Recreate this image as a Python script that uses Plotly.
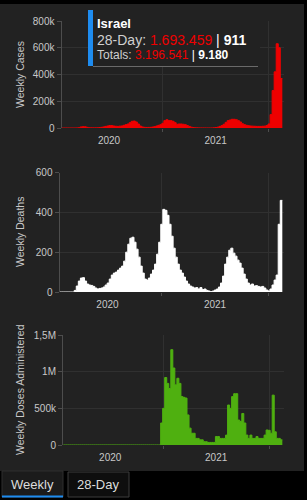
import pandas as pd
import plotly.graph_objects as go

# ---------------- data ----------------
week_start = "2020-01-22"
n_weeks = 108
weeks = pd.date_range(week_start, periods=n_weeks, freq="7D")

cases = [0, 0, 0, 0, 0, 0, 100, 500, 2000, 8000,
         10000, 9000, 5000, 2000, 1500, 1000, 1000, 1500, 3000, 5000,
         8000, 12000, 15000, 18000, 18000, 15000, 13000, 12000, 14000, 15000,
         20000, 25000, 30000, 40000, 50000, 52000, 45000, 30000, 15000, 8000,
         5000, 4000, 4500, 5000, 7000, 10000, 15000, 20000, 25000, 35000,
         55000, 62000, 55000, 55000, 50000, 40000, 28000, 30000, 30000, 28000,
         25000, 18000, 12000, 6000, 3000, 1500, 1000, 800, 600, 500,
         300, 200, 200, 500, 1500, 3000, 6000, 12000, 18000, 28000,
         42000, 55000, 60000, 65000, 65000, 62000, 55000, 45000, 32000, 25000,
         20000, 17000, 15000, 14000, 13000, 12000, 12000, 12000, 13000, 14000,
         18000, 30000, 100000, 280000, 420000, 630000, 600000, 370000]

deaths = [0, 0, 0, 0, 0, 0, 0, 8, 30, 55,
          70, 72, 55, 40, 35, 33, 28, 20, 15, 18,
          20, 25, 35, 45, 65, 85, 95, 100, 110, 120,
          130, 155, 200, 240, 270, 275, 250, 215, 175, 130,
          95, 65, 60, 70, 90, 110, 140, 190, 250, 340,
          415, 410, 385, 340, 280, 220, 175, 140, 110, 95,
          75, 55, 40, 30, 25, 20, 22, 15, 22, 12,
          15, 8, 5, 2, 5, 10, 15, 25, 45, 80,
          140, 175, 210, 220, 195, 180, 160, 145, 120, 90,
          65, 45, 35, 40, 30, 32, 28, 25, 28, 20,
          10, 5, 15, 35, 60, 85, 340, 460]

doses = [0] * 48 + [
    300000, 500000, 920000, 840000, 770000, 1300000, 1050000, 820000, 910000, 840000,
    660000, 650000, 640000, 410000, 230000, 160000, 160000, 90000, 90000, 70000,
    70000, 45000, 45000, 35000, 35000, 35000, 35000, 115000, 115000, 90000,
    90000, 90000, 135000, 545000, 500000, 660000, 700000, 700000, 340000, 320000,
    430000, 300000, 135000, 90000, 135000, 90000, 90000, 115000, 90000, 90000,
    90000, 135000, 205000, 200000, 160000, 680000, 180000, 90000, 90000, 70000]

cases_ticks = [0, 200000, 400000, 600000, 800000]
cases_ticktext = ["0", "200k", "400k", "600k", "800k"]
deaths_ticks = [0, 200, 400, 600]
deaths_ticktext = ["0", "200", "400", "600"]
doses_ticks = [0, 500000, 1000000, 1500000]
doses_ticktext = ["0", "500k", "1M", "1,5M"]

country = "Israel"
day28_cases, day28_deaths = "1.693.459", "911"
total_cases, total_deaths = "3.196.541", "9.180"

# ---------------- style ----------------
W, H = 307, 500
FONT = "Liberation Sans, Arial, sans-serif"
PANEL = "#222222"
GRID = "#303030"
AXIS = "#4d4d4d"
TXT = "#c8c8c8"
RED = "#ee0000"
WHITE = "#ffffff"
GREEN = "#4fb010"
BLUE = "#1e8cf0"


def xp(px):
    return px / W


def yp(px):
    return 1 - px / H


x_end = weeks[-1] + pd.Timedelta(days=7)
xs = list(weeks) + [x_end]
x_range = ["2020-01-21", "2022-02-20"]

fig = go.Figure()
for vals, color, xa, ya in [(cases, RED, "x", "y"), (deaths, WHITE, "x2", "y2"), (doses, GREEN, "x3", "y3")]:
    fig.add_trace(go.Scatter(
        x=xs, y=list(vals) + [vals[-1]], mode="lines", line=dict(shape="hv", color=color, width=1),
        fill="tozeroy", fillcolor=color, xaxis=xa, yaxis=ya, hoverinfo="skip", showlegend=False))


def xaxis_def(anchor, left_px):
    return dict(domain=[xp(left_px), xp(283.5)], anchor=anchor, type="date", range=x_range,
                dtick="M12", tick0="2020-01-01", ticklabelmode="period",
                showgrid=True, gridcolor=GRID, gridwidth=1, zeroline=False,
                showline=False, ticks="outside", ticklen=3, tickcolor=AXIS,
                tickfont=dict(size=10, color=TXT, family=FONT), automargin=False)


def yaxis_def(anchor, top_px, bottom_px, rng, tv, tt):
    return dict(domain=[yp(bottom_px), yp(top_px)], anchor=anchor, range=rng,
                tickvals=tv, ticktext=tt, showgrid=True, gridcolor=GRID, gridwidth=1,
                zeroline=False, showline=True, linecolor=AXIS, linewidth=1,
                ticks="outside", ticklen=4, tickcolor=AXIS,
                tickfont=dict(size=10, color=TXT, family=FONT), automargin=False)


fig.update_layout(
    width=W, height=H, margin=dict(l=0, r=0, t=0, b=0),
    paper_bgcolor="#000000", plot_bgcolor="rgba(0,0,0,0)",
    font=dict(family=FONT, color=TXT),
    xaxis=xaxis_def("y", 61.5),
    yaxis=yaxis_def("x", 21, 128, [0, 800000], cases_ticks, cases_ticktext),
    xaxis2=xaxis_def("y2", 59.5),
    yaxis2=yaxis_def("x2", 172.5, 292, [0, 600], deaths_ticks, deaths_ticktext),
    xaxis3=xaxis_def("y3", 63),
    yaxis3=yaxis_def("x3", 335, 445, [0, 1500000], doses_ticks, doses_ticktext),
)

shapes = [
    # main panel
    dict(type="rect", xref="paper", yref="paper", x0=xp(0), x1=xp(304), y0=yp(471), y1=yp(4),
         fillcolor=PANEL, line=dict(width=0), layer="below"),
    # tooltip background, blue bar and underline
    dict(type="rect", xref="paper", yref="paper", x0=xp(93), x1=xp(260), y0=yp(66), y1=yp(10),
         fillcolor=PANEL, line=dict(width=0), layer="above"),
    dict(type="rect", xref="paper", yref="paper", x0=xp(88), x1=xp(93), y0=yp(66), y1=yp(10),
         fillcolor=BLUE, line=dict(width=0), layer="above"),
    dict(type="line", xref="paper", yref="paper", x0=xp(93), x1=xp(258), y0=yp(66.5), y1=yp(66.5),
         line=dict(color="#6a6a6a", width=1), layer="above"),
    # tabs
    dict(type="rect", xref="paper", yref="paper", x0=xp(2), x1=xp(63), y0=yp(497), y1=yp(471),
         fillcolor="#1b1b1b", line=dict(color="#2e2e2e", width=1), layer="below"),
    dict(type="rect", xref="paper", yref="paper", x0=xp(2), x1=xp(63), y0=yp(497.5), y1=yp(495.5),
         fillcolor=BLUE, line=dict(width=0), layer="above"),
    dict(type="rect", xref="paper", yref="paper", x0=xp(68), x1=xp(129), y0=yp(497), y1=yp(472),
         fillcolor="#0e0e0e", line=dict(color="#3c3c3c", width=1), layer="below"),
]
fig.update_layout(shapes=shapes)

ann = []
# y-axis titles
for txt, cy in [("Weekly Cases", 75), ("Weekly Deaths", 232), ("Weekly Doses Administered", 390)]:
    ann.append(dict(text=txt, xref="paper", yref="paper", x=xp(20), y=yp(cy), showarrow=False,
                    textangle=-90, xanchor="center", yanchor="middle",
                    font=dict(size=10.5, color=TXT, family=FONT)))
# tooltip lines
ann.append(dict(text=f"<b>{country}</b>", xref="paper", yref="paper", x=xp(95), y=yp(23.5),
                showarrow=False, xanchor="left", yanchor="middle",
                font=dict(size=13, color=WHITE, family=FONT)))
ann.append(dict(text=f"28-Day: <span style='color:{RED}'>{day28_cases}</span>"
                     f"<span style='color:{WHITE}'> | <b>{day28_deaths}</b></span>",
                xref="paper", yref="paper", x=xp(95), y=yp(40), showarrow=False,
                xanchor="left", yanchor="middle", font=dict(size=14, color="#d0d0d0", family=FONT)))
ann.append(dict(text=f"Totals: <span style='color:{RED}'>{total_cases}</span>"
                     f"<span style='color:{WHITE}'> | <b>{total_deaths}</b></span>",
                xref="paper", yref="paper", x=xp(95), y=yp(55), showarrow=False,
                xanchor="left", yanchor="middle", font=dict(size=12, color="#d0d0d0", family=FONT)))
# tabs text
ann.append(dict(text="Weekly", xref="paper", yref="paper", x=xp(32.5), y=yp(484), showarrow=False,
                xanchor="center", yanchor="middle", font=dict(size=13, color="#dddddd", family=FONT)))
ann.append(dict(text="28-Day", xref="paper", yref="paper", x=xp(98.5), y=yp(484), showarrow=False,
                xanchor="center", yanchor="middle", font=dict(size=13, color="#dddddd", family=FONT)))
fig.update_layout(annotations=ann)

fig.write_html("out.html")
